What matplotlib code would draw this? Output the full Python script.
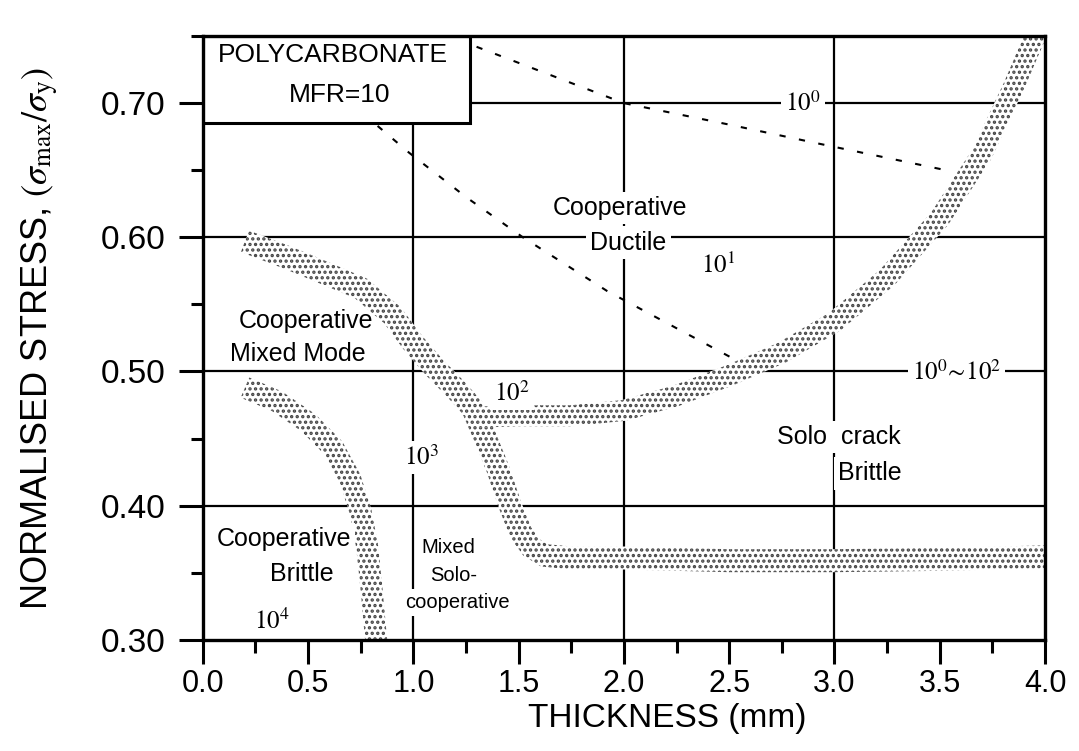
import numpy as np
import matplotlib
matplotlib.use("Agg")
import matplotlib.pyplot as plt
from matplotlib.patches import Polygon, Rectangle
from matplotlib.ticker import MultipleLocator, FormatStrFormatter

OUT_PATH = "out.png"

# band centre lines (thickness mm, normalised stress)
main_x = [0.20, 0.40, 0.60, 0.75, 0.90, 1.00, 1.10, 1.20, 1.28, 1.33, 1.40, 1.46,
          1.51, 1.56, 1.62, 1.75, 2.00, 2.50, 3.00, 3.50, 4.05]
main_y = [0.597, 0.585, 0.572, 0.562, 0.542, 0.521, 0.503, 0.487, 0.473, 0.455, 0.428, 0.400,
          0.380, 0.369, 0.363, 0.361, 0.361, 0.359, 0.359, 0.360, 0.362]

u_x = [1.31, 1.50, 1.75, 2.00, 2.25, 2.50, 2.75, 3.00, 3.25, 3.50, 3.70, 3.85, 3.97]
u_y = [0.466, 0.467, 0.467, 0.471, 0.482, 0.497, 0.514, 0.537, 0.570, 0.614, 0.662, 0.712, 0.756]

left_x = [0.20, 0.35, 0.50, 0.62, 0.70, 0.75, 0.78, 0.80, 0.82, 0.83]
left_y = [0.488, 0.478, 0.462, 0.443, 0.420, 0.395, 0.370, 0.340, 0.305, 0.290]

# dashed iso-lines
dash1_x = [1.30, 1.65, 2.00, 2.50, 2.92, 3.53]
dash1_y = [0.742, 0.721, 0.700, 0.684, 0.670, 0.650]
dash2_x = [0.83, 0.98, 1.25, 1.52, 1.92, 2.55]
dash2_y = [0.683, 0.663, 0.630, 0.600, 0.560, 0.507]

# region labels: (text, x, y, blank out grid behind it)
regions = [
    ("Cooperative", 1.98, 0.622, True), ("Ductile", 2.02, 0.596, True),
    ("Cooperative", 0.49, 0.538, False), ("Mixed Mode", 0.45, 0.513, False),
    ("Cooperative", 0.385, 0.375, True), ("Brittle", 0.47, 0.349, True),
    ("Solo  crack", 3.02, 0.451, True), ("Brittle", 3.17, 0.424, True),
]
small_regions = [("Mixed", 1.165, 0.369), ("Solo-", 1.19, 0.348), ("cooperative", 1.21, 0.328)]
powers = [
    (r"$10^0$", 2.85, 0.700), (r"$10^1$", 2.45, 0.579), (r"$10^2$", 1.47, 0.484),
    (r"$10^3$", 1.04, 0.436), (r"$10^4$", 0.33, 0.314), (r"$10^0\!\sim\!10^2$", 3.58, 0.499),
]

plt.rcParams.update({
    "font.family": ["Liberation Sans", "DejaVu Sans"],
    "mathtext.fontset": "stix",
    "hatch.linewidth": 1.6,
})

fig = plt.figure(figsize=(10.79, 7.51), dpi=100)
ax = fig.add_axes([0.188, 0.148, 0.7805, 0.804])
ax.set_xlim(0, 4.0)
ax.set_ylim(0.30, 0.75)


def band(xs, ys, width_px=22):
    pts = ax.transData.transform(np.column_stack([xs, ys]))
    d = np.gradient(pts, axis=0)
    d /= np.linalg.norm(d, axis=1)[:, None]
    n = np.column_stack([-d[:, 1], d[:, 0]])
    poly = np.vstack([pts + n * width_px / 2, (pts - n * width_px / 2)[::-1]])
    data = ax.transData.inverted().transform(poly)
    ax.add_patch(Polygon(data, closed=True, facecolor="white", edgecolor="#444444",
                         hatch="...", linewidth=0, zorder=3))


# grid (black, solid)
for gx in [1.0, 2.0, 3.0]:
    ax.axvline(gx, color="black", lw=1.6, zorder=1)
for gy in [0.4, 0.5, 0.6, 0.7]:
    ax.axhline(gy, color="black", lw=1.6, zorder=1)

band(left_x, left_y, 22)
band(main_x, main_y, 23)
band(u_x, u_y, 21)

ax.plot(dash1_x, dash1_y, color="black", lw=1.5, ls=(0, (3, 6.5)), zorder=2)
ax.plot(dash2_x, dash2_y, color="black", lw=1.5, ls=(0, (3, 6.5)), zorder=2)

# title box
ax.add_patch(Rectangle((0.0, 0.685), 1.27, 0.065, facecolor="white", edgecolor="black",
                       lw=2.2, zorder=5))
ax.text(0.62, 0.736, "POLYCARBONATE", ha="center", va="center", fontsize=19, zorder=6)
ax.text(0.65, 0.706, "MFR=10", ha="center", va="center", fontsize=19, zorder=6)

wb = dict(facecolor="white", edgecolor="none", pad=3)
for s, x, y, blank in regions:
    ax.text(x, y, s, ha="center", va="center", fontsize=18, zorder=4,
            bbox=wb if blank else None)
for s, x, y in small_regions:
    ax.text(x, y, s, ha="center", va="center", fontsize=14.5, zorder=4, bbox=wb)
for s, x, y in powers:
    ax.text(x, y, s, ha="center", va="center", fontsize=18, zorder=4, bbox=wb)

# axes cosmetics
for s in ax.spines.values():
    s.set_linewidth(2.4)
    s.set_zorder(7)
ax.xaxis.set_major_locator(MultipleLocator(0.5))
ax.xaxis.set_minor_locator(MultipleLocator(0.25))
ax.yaxis.set_major_locator(MultipleLocator(0.1))
ax.yaxis.set_minor_locator(MultipleLocator(0.05))
ax.xaxis.set_major_formatter(FormatStrFormatter("%.1f"))
ax.yaxis.set_major_formatter(FormatStrFormatter("%.2f"))
ax.tick_params(which="major", direction="out", length=17, width=2.2, pad=4)
ax.tick_params(which="minor", direction="out", length=9, width=2.2)
ax.tick_params(axis="y", labelsize=24, pad=10)
ax.tick_params(axis="x", labelsize=22)

ax.set_xlabel("THICKNESS (mm)", fontsize=24)
ax.xaxis.set_label_coords(0.552, -0.104)
ax.set_ylabel(r"NORMALISED STRESS, $(\sigma_{\rm max}/\sigma_{\rm y})$", fontsize=26)
ax.yaxis.set_label_coords(-0.168, 0.5)

fig.savefig(OUT_PATH, dpi=100)
print(f"Saved {OUT_PATH}")
